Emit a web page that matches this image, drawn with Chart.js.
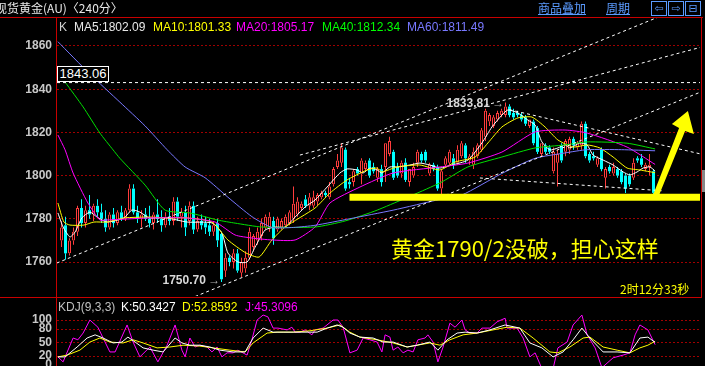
<!DOCTYPE html>
<html>
<head>
<meta charset="utf-8">
<script src="https://cdn.jsdelivr.net/npm/chart.js@4.4.1/dist/chart.umd.min.js"></script>
<style>
    html, body { margin: 0; padding: 0; background: #000; }
    #wrap { position: relative; width: 705px; height: 366px; overflow: hidden; background: #000; font-family: Arial, "Liberation Sans", sans-serif; }
    #main-chart { position: absolute; left: 0; top: 0; }
    #kdj-chart { position: absolute; left: 0; top: 297px; }
    .txt { position: absolute; white-space: nowrap; font-size: 12px; line-height: 14px; }
    .frame { position: absolute; background: #c80000; }
    .link { color: #5b9bff; text-decoration: underline; font-family: "Noto Sans CJK SC", sans-serif; font-size: 12px; line-height: 14px; top: 1px; }
    .btn { position: absolute; top: 1px; width: 14px; height: 13px; border: 1px solid #5b9bff; color: #5b9bff; font-family: "DejaVu Sans", sans-serif; font-size: 11px; line-height: 13px; text-align: center; }
    .mark { font-weight: bold; color: #d8d8d8; }
    .mark span { font-weight: normal; color: #b0b0b0; }
</style>
</head>
<body>
<div id="wrap">
    <canvas id="main-chart" width="705" height="297"></canvas>
    <canvas id="kdj-chart" width="705" height="69"></canvas>

    <div class="txt" style="left:-5px;top:1px;color:#e8e8e8;font-family:'Noto Sans CJK SC',sans-serif;">现货黄金(AU)〈240分〉</div>
    <div class="txt link" style="left:538px;">商品叠加</div>
    <div class="txt link" style="left:606px;">周期</div>
    <div class="btn" style="left:651px;">⇦</div>
    <div class="btn" style="left:668px;">⇨</div>
    <div class="btn" style="left:685px;">⊟</div>

    <div id="ma-legend"></div>
    <div id="kdj-legend"></div>
    <div id="marks"></div>

    <div class="txt" style="left:391px;top:234px;font-size:22px;line-height:27px;color:#ffff00;font-family:'Noto Sans CJK SC',sans-serif;">黄金1790/2没破，担心这样</div>
    <div class="txt" style="left:620px;top:282px;color:#ffff00;font-family:'Noto Sans CJK SC',sans-serif;">2时12分33秒</div>

    <div class="frame" style="left:0;top:17px;width:703px;height:1px;"></div>
    <div class="frame" style="left:56px;top:17px;width:1px;height:349px;"></div>
    <div class="frame" style="left:701px;top:17px;width:1px;height:280px;"></div>
    <div class="frame" style="left:0;top:297px;width:702px;height:1px;"></div>
    <div style="position:absolute;left:702px;top:170px;width:3px;height:22px;background:#888;"></div>
</div>

<script>
// 240 minute candles, oldest first
const candleOpen = [
    1770, 1777, 1764, 1770, 1774, 1785, 1778, 1784, 1782, 1786, 1783, 1780, 1776, 1782, 1778, 1783, 1780, 1784, 1794, 1783,
    1780, 1782, 1780, 1778, 1782, 1780, 1777, 1781, 1779, 1788, 1781, 1783, 1779, 1786, 1775, 1779, 1778, 1777, 1774, 1778,
    1773, 1756, 1762, 1760, 1764, 1755, 1757, 1762, 1767, 1770, 1772, 1776, 1776, 1779, 1775, 1776, 1777, 1778, 1780, 1782,
    1785, 1789, 1786, 1786, 1788, 1790, 1792, 1790, 1796, 1804, 1806, 1812, 1797, 1797, 1803, 1801, 1803, 1807, 1804, 1799,
    1803, 1804, 1810, 1811, 1804, 1801, 1806, 1797, 1800, 1806, 1810, 1811, 1801, 1805, 1804, 1794, 1805, 1806, 1808, 1806,
    1809, 1814, 1807, 1805, 1809, 1812, 1818, 1825, 1823, 1826, 1828, 1828, 1832, 1829, 1829, 1828, 1827, 1823, 1825, 1822,
    1810, 1814, 1813, 1802, 1806, 1814, 1811, 1812, 1817, 1813, 1814, 1824, 1810, 1809, 1805, 1812, 1799, 1804, 1801, 1803,
    1802, 1800, 1800, 1799, 1808, 1808, 1803, 1804, 1802
];
const candleHigh = [
    1779, 1781, 1771, 1776, 1786, 1789, 1786, 1791, 1787, 1789, 1787, 1784, 1783, 1785, 1784, 1786, 1785, 1796, 1796, 1786,
    1784, 1785, 1786, 1783, 1789, 1784, 1783, 1785, 1790, 1790, 1785, 1786, 1788, 1788, 1781, 1782, 1781, 1780, 1779, 1780,
    1774, 1764, 1763, 1766, 1766, 1762, 1765, 1776, 1773, 1776, 1780, 1782, 1783, 1781, 1781, 1780, 1782, 1784, 1795, 1790,
    1788, 1791, 1792, 1793, 1792, 1793, 1793, 1797, 1804, 1810, 1815, 1813, 1799, 1803, 1804, 1808, 1807, 1808, 1806, 1804,
    1805, 1815, 1818, 1812, 1806, 1807, 1808, 1803, 1806, 1812, 1811, 1812, 1806, 1806, 1805, 1803, 1809, 1812, 1810, 1814,
    1816, 1815, 1810, 1813, 1815, 1822, 1831, 1829, 1828, 1830, 1831, 1833.81, 1833, 1831, 1830, 1829, 1828, 1826, 1826, 1823,
    1815, 1815, 1814, 1813, 1812, 1815, 1817, 1818, 1818, 1816, 1825, 1825, 1811, 1811, 1809, 1813, 1804, 1805, 1806, 1804,
    1803, 1801, 1801, 1808, 1809, 1810, 1806, 1810, 1803
];
const candleLow = [
    1767, 1761, 1763, 1768, 1772, 1776, 1776, 1780, 1779, 1781, 1778, 1774, 1775, 1776, 1777, 1779, 1779, 1783, 1782, 1778,
    1776, 1779, 1776, 1775, 1778, 1774, 1776, 1777, 1777, 1779, 1776, 1772, 1777, 1773, 1774, 1775, 1773, 1772, 1772, 1767,
    1750.7, 1753, 1758, 1757, 1755, 1753, 1755, 1761, 1765, 1768, 1770, 1775, 1774, 1768, 1774, 1775, 1776, 1777, 1778, 1781,
    1784, 1785, 1784, 1785, 1786, 1789, 1790, 1789, 1795, 1803, 1804, 1793, 1794, 1795, 1800, 1796, 1802, 1799, 1801, 1797,
    1795, 1797, 1809, 1798, 1799, 1799, 1797, 1795, 1799, 1804, 1806, 1806, 1800, 1802, 1793, 1790, 1804, 1805, 1803, 1805,
    1808, 1806, 1805, 1803, 1808, 1811, 1816, 1823, 1822, 1825, 1827, 1827, 1827, 1826, 1827, 1825, 1823, 1822, 1814, 1810,
    1809, 1810, 1810, 1801, 1795, 1806, 1809, 1810, 1812, 1812, 1812, 1808, 1806, 1807, 1804, 1802, 1794, 1801, 1800, 1799,
    1796, 1792, 1795, 1798, 1806, 1804, 1802, 1800, 1791
];
const candleClose = [
    1776, 1764, 1770, 1774, 1785, 1778, 1784, 1782, 1786, 1783, 1780, 1776, 1782, 1778, 1783, 1780, 1784, 1794, 1783, 1780,
    1782, 1780, 1778, 1782, 1780, 1777, 1781, 1779, 1788, 1781, 1783, 1776, 1786, 1775, 1779, 1777, 1776, 1774, 1777, 1770,
    1752, 1762, 1760, 1764, 1756, 1760, 1762, 1774, 1772, 1774, 1778, 1781, 1781, 1771, 1780, 1779, 1781, 1783, 1787, 1788,
    1787, 1786, 1790, 1790, 1791, 1792, 1791, 1795, 1803, 1807, 1813, 1794, 1796, 1802, 1801, 1807, 1806, 1800, 1802, 1803,
    1797, 1815, 1816, 1799, 1800, 1806, 1798, 1803, 1804, 1811, 1807, 1807, 1805, 1803, 1794, 1802, 1808, 1811, 1805, 1812,
    1815, 1808, 1809, 1811, 1814, 1821, 1830, 1828, 1827, 1829, 1830, 1832, 1828, 1827, 1828, 1826, 1824, 1826, 1815, 1811,
    1815, 1811, 1811, 1811, 1810, 1807, 1816, 1817, 1814, 1815, 1824, 1809, 1807, 1808, 1808, 1803, 1803, 1802, 1804, 1800,
    1797, 1794, 1796, 1806, 1807, 1805, 1805, 1805, 1792
];

// moving averages: [candle index, price]
const ma5Points = [
    [-0.9, 1782.7], [0.4, 1776.2], [2.1, 1771.6], [3.4, 1773.9], [5.1, 1780.4], [7.1, 1783.1], [8.9, 1780.8], [11.4, 1778.5],
    [15.6, 1780.4], [17.6, 1784.1], [19.6, 1783.1], [21.9, 1780.4], [23.9, 1780.4], [26.4, 1780.4], [31.4, 1778.5], [37.6, 1778.1],
    [40.1, 1773.4], [41.6, 1764.2], [44.1, 1760], [46.4, 1760], [48.4, 1766.9], [50.9, 1774.8], [53.4, 1776.2], [55.9, 1776.2],
    [58.4, 1780.8], [60.9, 1785.5], [63.4, 1788.7], [66.4, 1794.7], [69.6, 1801.2], [71.4, 1803.1], [73.9, 1802.6], [75.4, 1801.2],
    [77.1, 1803.5], [78.9, 1802.6], [80.1, 1801.2], [82.1, 1804], [84.1, 1804], [87.1, 1804.9], [89.6, 1805.8], [92.1, 1804.9],
    [94.6, 1803.5], [97.6, 1804.9], [101.6, 1807.2], [105.1, 1815.1], [107.6, 1822.5], [110.1, 1828], [111.6, 1830.4], [114.1, 1829],
    [116.6, 1825.7], [118.4, 1823.4], [120.1, 1815.6], [122.1, 1811.9], [124.1, 1812.8], [125.9, 1814.2], [127.1, 1812.8], [129.6, 1815.1],
    [131.4, 1814.2], [132.9, 1809.5], [135.4, 1807.2], [137.9, 1804.9], [140.4, 1801.7], [142.1, 1800.3], [143.9, 1801.7], [145.4, 1803.5],
    [147.1, 1804], [148.4, 1802.09]
];
const ma10Points = [
    [-0.9, 1787.3], [0.6, 1778.5], [2.1, 1777.1], [5.6, 1777.1], [8.1, 1778.5], [11.4, 1778.5], [15.6, 1780.4], [22.1, 1780.8],
    [26.4, 1780.4], [31.4, 1780.4], [37.6, 1778.5], [41.6, 1770.2], [46.1, 1764.2], [49.4, 1762.3], [52.6, 1770.2], [55.9, 1776.2],
    [63.4, 1785], [67.1, 1791.9], [71.4, 1798], [76.4, 1802.6], [78.9, 1803.5], [80.1, 1801.7], [83.9, 1804], [89.6, 1804.9],
    [94.6, 1802.6], [98.4, 1806.3], [103.4, 1808.6], [106.6, 1815.1], [110.1, 1822.5], [114.1, 1826.7], [117.6, 1827.1], [120.9, 1822.5],
    [124.1, 1816.5], [127.9, 1813.2], [131.4, 1814.2], [134.6, 1812.8], [137.9, 1808.6], [141.4, 1803.5], [144.6, 1802.6], [148.4, 1801.33]
];
const ma20Points = [
    [-0.9, 1818.8], [0.9, 1811.9], [2.9, 1801.2], [6.6, 1787.3], [9.6, 1779.4], [10.9, 1779.4], [22.1, 1780.4], [30.9, 1780.4],
    [38.4, 1778.5], [43.4, 1772.5], [47.6, 1771.1], [52.6, 1770.2], [58.4, 1770.2], [63.4, 1776.2], [67.1, 1787.3], [74.6, 1794.7],
    [82.9, 1801.2], [94.6, 1804], [101.6, 1805.8], [110.1, 1810.9], [118.4, 1820.2], [125.9, 1821.1], [131.4, 1819.7], [141.4, 1813.2],
    [148.4, 1805.17]
];
const ma40Points = [
    [0.9, 1843.3], [5.4, 1831.8], [9.6, 1819.7], [12.9, 1811.9], [14.6, 1808], [20.9, 1795.6], [25.9, 1784], [32.1, 1782.7],
    [39.1, 1779.4], [43.4, 1778], [50.1, 1776.2], [63.4, 1776.2], [70.9, 1779], [78.9, 1784], [94.6, 1796.6], [101.6, 1804],
    [110.1, 1808.6], [118.4, 1812.8], [125.9, 1814.2], [131.4, 1815.6], [141.4, 1815], [148.4, 1812.34]
];
const ma60Points = [
    [-0.9, 1862], [7.1, 1847], [14.6, 1834], [20.9, 1823], [26.4, 1812], [30.9, 1804], [35.9, 1799], [41.6, 1790],
    [47.6, 1781], [52.6, 1776], [58, 1776], [63.4, 1777], [72, 1780], [82.9, 1784], [94.6, 1789], [100.1, 1791],
    [110.1, 1801], [118.4, 1808], [125.9, 1810.5], [131.4, 1812], [140, 1812], [148.4, 1811.49]
];

// KDJ(9,3,3): [candle index, value]
const kdjK = [
    [-0.9, 18], [0.9, 18], [3.9, 40], [6.4, 60], [8.4, 67], [10.4, 60], [12.9, 49], [15.1, 51], [16.6, 62], [18.4, 51],
    [20.4, 38], [22.9, 33], [25.4, 29], [28.4, 60], [30.1, 49], [32.1, 44], [34.6, 44], [37.1, 40], [39.6, 33], [42.9, 29],
    [45.9, 29], [47.9, 60], [50.4, 82], [52.9, 73], [55.4, 73], [57.9, 73], [61.4, 73], [63.9, 73], [66.4, 82], [68.9, 89],
    [70.4, 84], [72.1, 71], [74.6, 62], [77.9, 60], [80.4, 51], [82.9, 51], [86.4, 40], [88.9, 44], [92.1, 51], [94.1, 33],
    [96.4, 56], [98.9, 71], [100.9, 73], [103.9, 71], [107.1, 78], [110.9, 89], [114.6, 82], [117.1, 49], [120.1, 38], [122.9, 18],
    [125.4, 29], [127.9, 56], [130.1, 82], [132.1, 60], [135.4, 29], [138.9, 29], [142.1, 27], [144.6, 60], [146.6, 62], [148.4, 50.34]
];
const kdjD = [
    [-0.9, 18], [1.4, 22], [4.6, 33], [7.1, 51], [9.6, 60], [12.1, 51], [15.4, 49], [17.9, 56], [20.4, 49], [23.9, 38],
    [27.1, 40], [30.4, 44], [34.6, 42], [37.9, 38], [42.1, 33], [45.9, 29], [47.9, 49], [51.4, 71], [53.9, 73], [57.9, 73],
    [62.1, 76], [66.4, 82], [69.6, 89], [72.1, 73], [74.6, 62], [78.9, 56], [82.9, 49], [86.4, 40], [92.1, 49], [94.6, 44],
    [97.1, 56], [100.4, 67], [103.9, 71], [107.9, 78], [111.4, 84], [114.6, 82], [117.9, 60], [122.1, 29], [124.1, 27], [127.1, 40],
    [130.4, 60], [132.1, 62], [135.4, 40], [138.9, 33], [142.1, 27], [144.6, 38], [146.6, 44], [148.4, 52.86]
];
const kdjJ = [
    [-0.9, 18], [0.4, 7], [2.9, 60], [4.1, 56], [5.4, 71], [7.1, 100], [9.1, 84], [10.4, 60], [12.1, 29], [13.4, 29],
    [16.4, 89], [17.9, 51], [19.6, 18], [22.1, 40], [24.1, 7], [26.4, 44], [28.4, 89], [30.1, 33], [30.9, 18], [32.1, 60],
    [33.4, 40], [34.6, 44], [36.4, 40], [37.6, 29], [38.9, 40], [40.1, 18], [41.4, 27], [42.9, 27], [44.1, 33], [46.4, 22],
    [47.6, 56], [48.9, 100], [50.4, 111], [51.6, 107], [52.9, 82], [54.1, 82], [56.4, 78], [57.6, 84], [58.4, 73], [59.6, 73],
    [60.9, 78], [62.6, 67], [63.4, 78], [65.4, 82], [67.9, 100], [69.1, 100], [70.4, 84], [72.1, 27], [73.9, 33], [75.4, 60],
    [77.1, 56], [78.9, 51], [80.1, 29], [80.9, 67], [82.1, 62], [82.9, 33], [84.1, 40], [85.4, 27], [86.6, 33], [87.9, 29],
    [89.1, 56], [90.9, 60], [91.6, 67], [92.9, 51], [94.1, 7], [95.4, 40], [97.1, 93], [98.4, 84], [100.1, 100], [100.9, 78],
    [102.1, 71], [103.9, 71], [105.1, 82], [107.1, 82], [108.9, 96], [110.9, 104], [111.4, 82], [113.9, 82], [115.4, 60], [117.1, 18],
    [118.4, 27], [120.1, -8], [122.9, -8], [124.1, 38], [126.4, 51], [127.9, 89], [130.1, 111], [131.4, 67], [133.4, 38], [135.1, -6],
    [137.9, 16], [140.4, 22], [142.1, 27], [143.4, 67], [144.6, 89], [146.6, 78], [148.4, 45.31]
];

// drawn-on annotations: dashed trend lines, support bar, arrow
const trendLines = [
    [[-1.2, 1759.5], [150, 1874]],
    [[33.4, 1744], [161, 1839.6]],
    [[59.6, 1809.5], [161, 1860]],
    [[112, 1830.5], [161, 1809.5]],
    [[104.6, 1798.9], [150, 1793]]
];
const markedPrice = 1843.06;
const supportPrice = 1790;
const supportRange = [72, 161];
const arrowShape = [
    [147.6, 1789.6], [149.1, 1789.6], [155.9, 1820.6], [158.1, 1819.3], [156.6, 1829.9], [152.6, 1823.9], [154.4, 1822], [147.6, 1789.6]
];

const priceTicks = [1760, 1780, 1800, 1820, 1840, 1860];
const kdjTicks = [0, 20, 50, 80, 100];

const maLegend = [
    { label: 'MA5:1802.09', color: '#e8e8e8', left: 74 },
    { label: 'MA10:1801.33', color: '#ffff00', left: 153 },
    { label: 'MA20:1805.17', color: '#ff00ff', left: 236 },
    { label: 'MA40:1812.34', color: '#00ff00', left: 322 },
    { label: 'MA60:1811.49', color: '#7878ff', left: 407 }
];
const kdjLegend = [
    { label: 'KDJ(9,3,3)', color: '#c0c0c0', left: 58 },
    { label: 'K:50.3427', color: '#ffffff', left: 121 },
    { label: 'D:52.8592', color: '#ffff00', left: 182 },
    { label: 'J:45.3096', color: '#ff00ff', left: 245 }
];

(function () {
    const UpColor = '#ff3c3c';
    const DownColor = '#00ffff';
    const GridColor = '#a00000';
    const xMin = -1.125;
    const xMax = 159.625;

    function toPoints(list) {
        return list.map(p => ({ x: p[0], y: p[1] }));
    }

    function lineSet(points, color, width, order, extra) {
        return Object.assign({
            type: 'line',
            data: toPoints(points),
            borderColor: color,
            backgroundColor: color,
            borderWidth: width,
            pointRadius: 0,
            tension: 0.2,
            fill: false,
            order: order
        }, extra || {});
    }

    function candleSets() {
        var bodies = [], upper = [], lower = [], fills = [], borders = [], widths = [], wickColors = [];

        candleOpen.forEach((o, i) => {
            var c = candleClose[i];
            var top = Math.max(o, c), bottom = Math.min(o, c);
            var up = c >= o;

            bodies.push({ x: i, y: [bottom, top] });
            upper.push({ x: i, y: [top, candleHigh[i]] });
            lower.push({ x: i, y: [candleLow[i], bottom] });
            fills.push(up ? '#000000' : DownColor);
            borders.push(up ? UpColor : DownColor);
            widths.push(up ? 1 : 0);
            wickColors.push(up ? UpColor : DownColor);
        });

        var wick = {
            type: 'bar',
            barThickness: 1,
            grouped: false,
            borderWidth: 0,
            inflateAmount: 0,
            backgroundColor: wickColors,
            order: 6
        };

        return [
            Object.assign({ data: upper }, wick),
            Object.assign({ data: lower }, wick),
            {
                type: 'bar',
                data: bodies,
                barThickness: 3,
                grouped: false,
                minBarLength: 1,
                borderSkipped: false,
                inflateAmount: 0,
                backgroundColor: fills,
                borderColor: borders,
                borderWidth: widths,
                order: 5
            }
        ];
    }

    // left value axis, fixed 57px wide, no extra label padding above/below the plot
    function valueAxis(min, max, ticks, gridColor) {
        return {
            min: min,
            max: max,
            afterFit: s => { s.width = 57; s.paddingTop = 0; s.paddingBottom = 0; },
            afterBuildTicks: s => { s.ticks = ticks.map(v => ({ value: v })); },
            grid: { color: gridColor, drawTicks: false },
            border: { display: false, dash: [2, 2] },
            ticks: {
                color: '#c8c8c8',
                padding: 5,
                autoSkip: false,
                font: { family: 'Arial', size: 12, weight: 'bold' },
                callback: v => String(v)
            }
        };
    }

    function initMainChart() {
        var datasets = candleSets();

        datasets.push(lineSet(ma60Points, '#7878ff', 1, 4));
        datasets.push(lineSet(ma40Points, '#00e000', 1, 4));
        datasets.push(lineSet(ma20Points, '#ff00ff', 1, 4));
        datasets.push(lineSet(ma10Points, '#ffff00', 1, 4));
        datasets.push(lineSet(ma5Points, '#ffffff', 1, 4));

        trendLines.forEach(t => {
            datasets.push(lineSet(t, '#ffffff', 1, 3, { borderDash: [3, 3], tension: 0 }));
        });
        datasets.push(lineSet([[xMin, markedPrice], [xMax, markedPrice]], '#ffffff', 1, 3, { borderDash: [3, 3], tension: 0 }));
        datasets.push(lineSet([[supportRange[0], supportPrice], [supportRange[1], supportPrice]], '#ffff00', 7, 2, { tension: 0, borderCapStyle: 'butt' }));
        datasets.push(lineSet(arrowShape, '#ffff00', 0, 1, { tension: 0, fill: 'shape' }));

        const config = {
            type: 'bar',
            data: { datasets: datasets },
            options: {
                responsive: false,
                animation: false,
                events: [],
                layout: { padding: { top: 18, right: 5, bottom: 1, left: 0 } },
                plugins: { legend: { display: false }, tooltip: { enabled: false } },
                scales: {
                    x: { type: 'linear', min: xMin, max: xMax, offset: false, display: false },
                    y: valueAxis(1744.26, 1872.96, priceTicks, GridColor)
                }
            }
        };

        return new Chart(document.getElementById('main-chart'), config);
    }

    function initKdjChart() {
        const config = {
            type: 'line',
            data: {
                datasets: [
                    lineSet(kdjJ, '#ff00ff', 1, 3, { tension: 0 }),
                    lineSet(kdjD, '#ffff00', 1, 2, { tension: 0 }),
                    lineSet(kdjK, '#ffffff', 1, 1, { tension: 0 })
                ]
            },
            options: {
                responsive: false,
                animation: false,
                events: [],
                layout: { padding: { top: 1, right: 5, bottom: 0, left: 0 } },
                plugins: { legend: { display: false }, tooltip: { enabled: false } },
                scales: {
                    x: { type: 'linear', min: xMin, max: xMax, offset: false, display: false },
                    y: valueAxis(-2.22, 148.9, kdjTicks, ctx => ctx.tick && ctx.tick.value === 0 ? 'rgba(0,0,0,0)' : GridColor)
                }
            }
        };

        return new Chart(document.getElementById('kdj-chart'), config);
    }

    function addText(parent, html, style) {
        var el = document.createElement('div');
        el.className = 'txt';
        el.innerHTML = html;
        Object.assign(el.style, style);
        parent.appendChild(el);
        return el;
    }

    function drawLegends() {
        var ma = document.getElementById('ma-legend');
        addText(ma, 'K', { left: '59px', top: '20px', color: '#d0d0d0' });
        maLegend.forEach(m => addText(ma, m.label, { left: m.left + 'px', top: '20px', color: m.color }));

        var kdj = document.getElementById('kdj-legend');
        kdjLegend.forEach(m => addText(kdj, m.label, { left: m.left + 'px', top: '300px', color: m.color }));
    }

    function drawMarks(chart) {
        var marks = document.getElementById('marks');
        var x = chart.scales.x, y = chart.scales.y;

        addText(marks, markedPrice.toFixed(2), {
            left: x.left + 'px', top: (y.getPixelForValue(markedPrice) - 17) + 'px',
            width: '50px', height: '14px', border: '1px solid #ffffff', background: '#000',
            color: '#ffffff', fontSize: '13px', textAlign: 'center', lineHeight: '14px'
        });

        var hiIdx = candleHigh.indexOf(Math.max.apply(null, candleHigh));
        var loIdx = candleLow.indexOf(Math.min.apply(null, candleLow));

        var hi = addText(marks, candleHigh[hiIdx].toFixed(2) + '<span>&thinsp;→</span>', { color: '#d8d8d8' });
        hi.classList.add('mark');
        hi.style.left = (x.getPixelForValue(hiIdx) - hi.offsetWidth - 1) + 'px';
        hi.style.top = (y.getPixelForValue(candleHigh[hiIdx]) - 7) + 'px';

        var lo = addText(marks, candleLow[loIdx].toFixed(2) + '<span>&thinsp;→</span>', { color: '#d8d8d8' });
        lo.classList.add('mark');
        lo.style.left = (x.getPixelForValue(loIdx) - lo.offsetWidth - 1) + 'px';
        lo.style.top = (y.getPixelForValue(candleLow[loIdx]) - 9) + 'px';
    }

    var mainChart = initMainChart();
    initKdjChart();
    drawLegends();
    drawMarks(mainChart);
}());
</script>
</body>
</html>
